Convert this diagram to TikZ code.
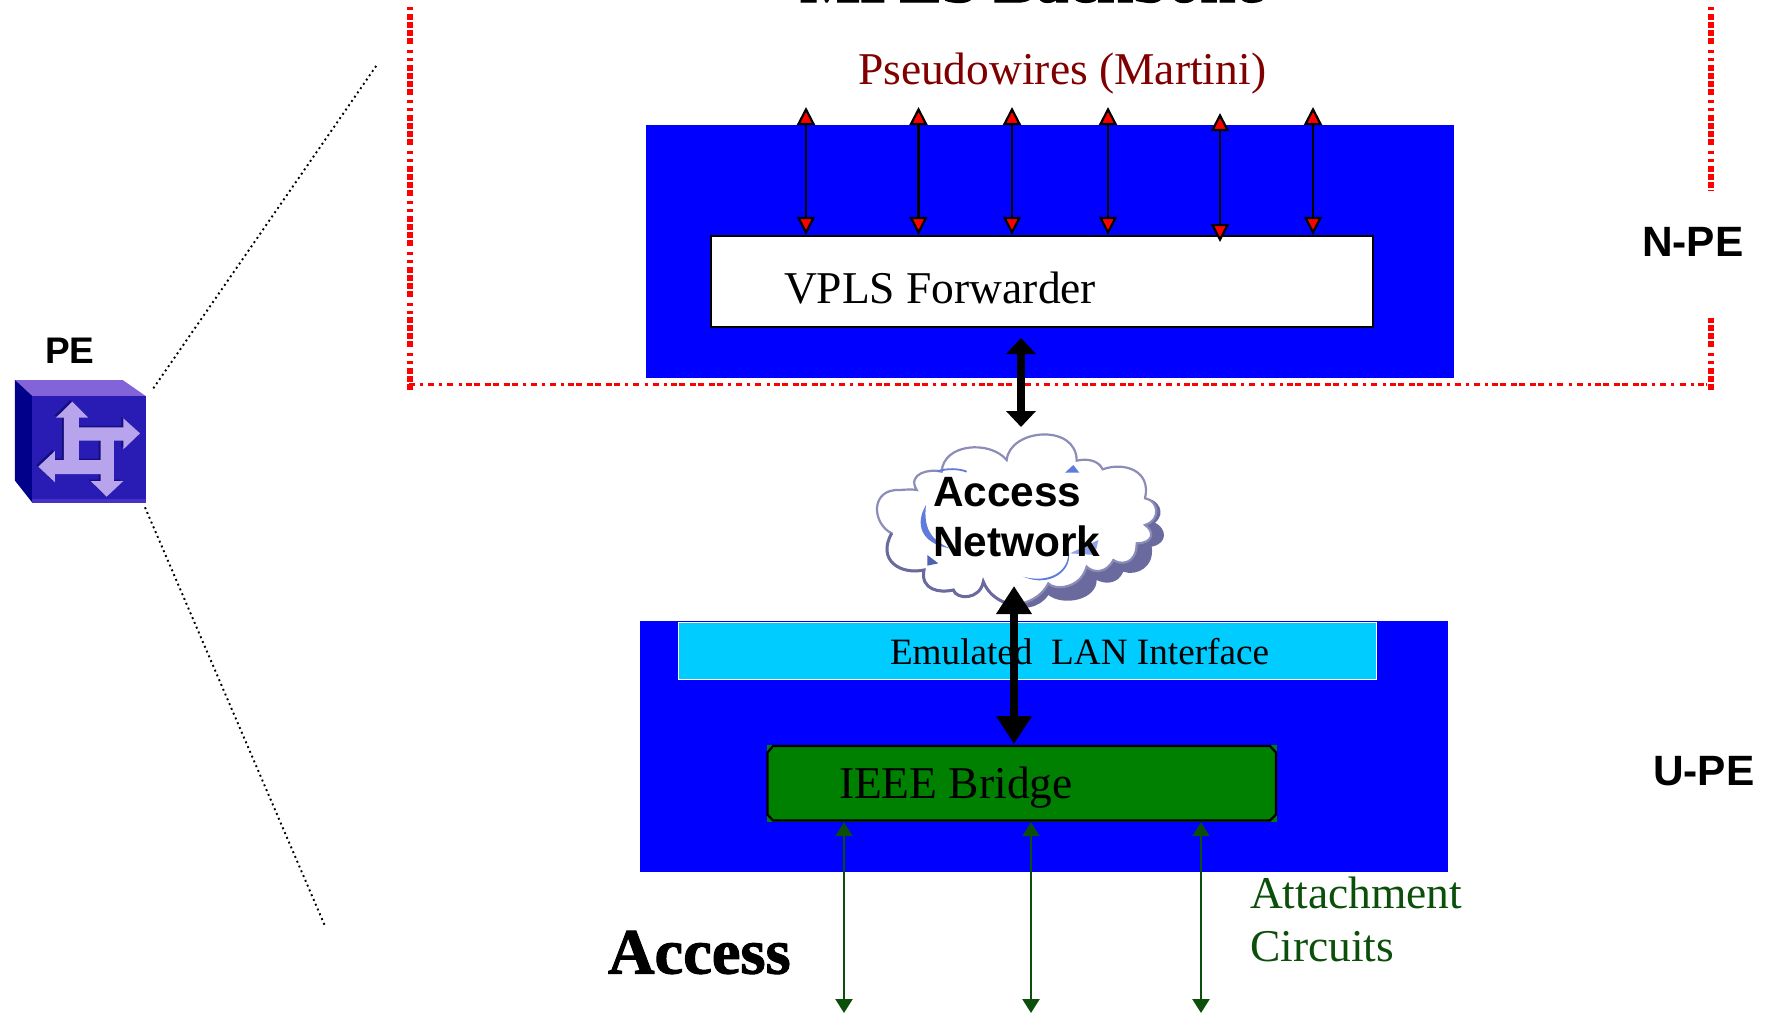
\documentclass[tikz,border=0pt]{standalone}
\usepackage{fontspec}
\setmainfont{Liberation Serif}
\newfontfamily\arialf{Liberation Sans}
\newfontfamily\heavyf{Liberation Serif}[UprightFont=* Bold,FakeBold=1.6]
\usetikzlibrary{arrows.meta}
\definecolor{panelblue}{HTML}{0000FF}
\definecolor{lancyan}{HTML}{00CCFF}
\definecolor{bridgegreen}{HTML}{008000}
\definecolor{acgreen}{HTML}{0B4F0B}
\definecolor{pwred}{HTML}{800000}
\definecolor{cloudshadow}{HTML}{6A6A9E}
\definecolor{cloudline}{HTML}{8C8CB8}
\definecolor{cloudblue}{HTML}{5F7CDC}
\definecolor{pctop}{RGB}{130,100,216}
\definecolor{pcleft}{RGB}{0,0,139}
\definecolor{pcfront}{RGB}{40,28,180}
\definecolor{pcedge}{RGB}{70,50,200}
\definecolor{pcshade}{RGB}{22,14,120}
\definecolor{pcglyph}{RGB}{184,164,236}
\newcommand{\fsz}[1]{\fontsize{#1}{#1}\selectfont}
\tikzset{
  panel/.style={fill=panelblue,draw=none,inner sep=0pt,outer sep=0pt},
  lbl/.style={inner sep=0pt,outer sep=0pt,anchor=base west},
  serifsm/.style={lbl,font=\fsz{37.2}},
  serifmd/.style={lbl,font=\fsz{45.5}},
  serifbig/.style={lbl,font=\heavyf\fsz{64}},
  sanslbl/.style={lbl,font=\arialf\fsz{42.4}\bfseries},
  pwarrow/.style={line width=2.6pt,draw=black,
    {Triangle[length=18pt,width=18pt,fill=red,line width=2.2pt]}-{Triangle[length=18pt,width=18pt,fill=red,line width=2.2pt]}},
  acarrow/.style={line width=2.4pt,draw=acgreen,
    {Triangle[length=14pt,width=17pt]}-{Triangle[length=14pt,width=17pt]}},
  fatup/.style={line width=7.5pt,draw=black,
    {Triangle[length=16pt,width=29pt]}-{Triangle[length=16pt,width=29pt]}},
  fatlow/.style={line width=8pt,draw=black,
    {Triangle[length=28pt,width=34pt]}-{Triangle[length=28pt,width=34pt]}},
  reddash/.style={draw=red,line width=6pt,dash pattern=on 3pt off 5pt on 3pt off 3.83pt on 6pt off 2pt on 6pt off 2pt on 6pt off 2pt on 6pt off 5.72pt},
  redhoriz/.style={draw=red,line width=3pt,dash pattern=on 6pt off 4.83pt on 3pt off 5.17pt on 6pt off 5.17pt on 3pt off 5.17pt on 6pt off 5.17pt on 3pt off 4.17pt on 6pt off 2pt on 6pt off 5pt on 6pt off 2pt on 6pt off 5pt on 6pt off 2pt},
  zoomline/.style={draw=black,line width=1.9pt,dash pattern=on 1.9pt off 3.3pt},
}
\begin{document}
\begin{tikzpicture}[x=1pt,y=-1pt]
\useasboundingbox (0,0) rectangle (1767,1013);
\fill[white] (0,0) rectangle (1767,1013);

% N-PE block
\node[panel,minimum width=808pt,minimum height=253pt] (npe) at (1050,251.5) {};
\node[fill=white,draw=black,line width=2.4pt,inner sep=0pt,minimum width=662pt,minimum height=91pt] (fwd) at (1042,281.5) {};
\node[serifmd] (fwdtext) at (784,303) {VPLS Forwarder};

% dashed red MPLS boundary
\coordinate (bl) at (410,7.2);
\coordinate (blb) at (410,391);
\coordinate (hl) at (409,384.5);
\coordinate (hr) at (1707,384.5);
\coordinate (brt) at (1711,7.2);
\coordinate (brm) at (1711,190.6);
\coordinate (brm2) at (1711,318);
\coordinate (brb) at (1711,391);
\draw[reddash,dash phase=8pt] (bl) -- (blb);
\draw[reddash,dash phase=8pt] (brt) -- (brm);
\draw[reddash,dash phase=15.75pt] (brm2) -- (brb);
\draw[redhoriz] (hl) -- (hr);

% U-PE block
\node[panel,minimum width=808pt,minimum height=251pt] (upe) at (1044,746.5) {};
\node[fill=lancyan,draw=white,line width=1pt,inner sep=0pt,minimum width=698pt,minimum height=57pt] (lan) at (1027,650.5) {};
\node[serifsm] (lantext) at (890,664.5) {Emulated\ \ LAN Interface};
\fill[bridgegreen] (766.5,745) rectangle (1277,822);
\node[fill=none,inner sep=0pt,minimum width=510pt,minimum height=77pt] (bridge) at (1021.75,783.5) {};
\draw[fill=bridgegreen,draw=black,line width=2.2pt]
  (773,746) -- (1270,746) -- (1276,752.5) -- (1276,814.5) -- (1270,820.5) -- (773,820.5) -- (767.5,814.5) -- (767.5,752.5) -- cycle;
\node[serifmd] (bridgetext) at (839,798) {IEEE Bridge};

% cloud
\begin{scope}[shift={(850,400)},x=0.33333pt,y=-0.33333pt]
\fill[cloudshadow] (885,295) .. controls (925,295) and (950,340) .. (915,368)
  .. controls (950,385) and (955,430) .. (905,440)
  .. controls (915,500) and (860,530) .. (820,515)
  .. controls (805,550) and (770,555) .. (740,540)
  .. controls (740,600) and (640,620) .. (595,585)
  .. controls (570,625) and (510,635) .. (470,610) -- (600,400) -- cycle;
\draw[fill=white,draw=cloudline,line width=2.2pt]
  (470,180) .. controls (480,85) and (680,70) .. (680,182)
  .. controls (710,175) and (745,180) .. (758,208)
  .. controls (820,185) and (905,210) .. (885,295)
  .. controls (925,300) and (935,360) .. (885,375)
  .. controls (915,395) and (910,430) .. (860,430)
  .. controls (860,495) and (810,495) .. (790,480)
  .. controls (770,520) and (730,520) .. (710,500)
  .. controls (690,570) and (610,570) .. (595,550)
  .. controls (570,600) and (510,620) .. (470,610)
  .. controls (430,595) and (410,570) .. (400,545)
  .. controls (390,600) and (320,600) .. (310,570)
  .. controls (270,580) and (210,570) .. (222,510)
  .. controls (150,525) and (80,480) .. (125,400)
  .. controls (65,370) and (60,265) .. (150,270)
  .. controls (175,268) and (190,268) .. (200,270)
  .. controls (170,220) and (240,205) .. (275,215)
  .. controls (280,130) and (420,120) .. (470,180) -- cycle;
\draw[cloudshadow,line width=3pt] (125,400) .. controls (80,480) and (150,525) .. (222,510) .. controls (210,570) and (270,580) .. (310,570)
  .. controls (320,600) and (390,600) .. (400,545) .. controls (410,570) and (430,595) .. (470,610);
\draw[cloudblue,line width=1.8pt] (262,214) .. controls (290,205) and (325,205) .. (350,215);
\fill[cloudblue] (228,315) .. controls (195,370) and (210,430) .. (300,445)
  .. controls (240,420) and (220,380) .. (228,315) -- cycle;
\fill[cloudblue!80!black] (232,465) -- (265,490) -- (232,497) -- cycle;
\fill[cloudblue] (520,530) .. controls (590,550) and (660,520) .. (655,450)
  .. controls (672,510) and (600,565) .. (520,530) -- cycle;
\fill[cloudblue!70!white] (660,460) -- (745,420) -- (735,465) -- cycle;
\fill[cloudblue] (645,218) -- (670,195) -- (688,218) -- cycle;
\end{scope}
\node[lbl,align=left,anchor=north west,font=\arialf\fontsize{42.4}{50.7}\selectfont\bfseries] (accnet) at (933,477) {Access\\Network};

% pseudowires
\coordinate (pw1) at (806,107);
\coordinate (pw2) at (918.5,107);
\coordinate (pw3) at (1012,107);
\coordinate (pw4) at (1108,107);
\coordinate (pw5) at (1220,113);
\coordinate (pw5b) at (1220,242);
\coordinate (pw6) at (1313,107);
\draw[pwarrow] (pw1) -- (pw1 |- fwd.north);
\draw[pwarrow] (pw2) -- (pw2 |- fwd.north);
\draw[pwarrow] (pw3) -- (pw3 |- fwd.north);
\draw[pwarrow] (pw4) -- (pw4 |- fwd.north);
\draw[pwarrow] (pw5) -- (pw5b);
\draw[pwarrow] (pw6) -- (pw6 |- fwd.north);
\node[lbl,font=\fsz{45.5},text=pwred] (pwtext) at (858,84) {Pseudowires (Martini)};
\node[serifbig] (mpls) at (800,2) {MPLS Backbone};

% thick arrows
\coordinate (ftop) at (1021,338);
\coordinate (fbot) at (1021,427);
\coordinate (gtop) at (1014,586);
\coordinate (gbot) at (1014,744);
\draw[fatup] (ftop) -- (fbot);
\draw[fatlow] (gtop) -- (gbot);

% attachment circuits
\coordinate (ac1) at (844,1013);
\coordinate (ac2) at (1031,1013);
\coordinate (ac3) at (1201,1013);
\draw[acarrow] (ac1 |- bridge.south) -- (ac1);
\draw[acarrow] (ac2 |- bridge.south) -- (ac2);
\draw[acarrow] (ac3 |- bridge.south) -- (ac3);
\node[lbl,align=left,anchor=north west,font=\fontsize{45.5}{53}\selectfont,text=acgreen] (actext) at (1250,877) {Attachment\\Circuits};
\node[lbl,font=\heavyf\fsz{64.5}] (access) at (608,973.5) {Access};

% side labels
\node[sanslbl] (npelbl) at (1642,256.5) {N-PE};
\node[sanslbl] (upelbl) at (1653,785) {U-PE};
\node[lbl,font=\arialf\fsz{37}\bfseries] (pelbl) at (45,363.5) {PE};

% PE icon
\begin{scope}[shift={(0,320)},x=0.33333pt,y=-0.33333pt]
\def\peglyph{(217,245) -- (265,293) -- (237,293) -- (237,322) -- (370,322) -- (370,295) -- (420,340) -- (370,388) -- (370,362) -- (342,362) -- (342,483) -- (370,483) -- (320,530) -- (272,483) -- (302,483) -- (302,462) -- (165,462) -- (165,487) -- (115,440) -- (165,393) -- (165,420) -- (192,420) -- (192,293) -- (168,293) -- cycle (237,362) -- (302,362) -- (302,420) -- (237,420) -- cycle}
\fill[pctop] (45,180) -- (368,180) -- (437,228) -- (97,228) -- cycle;
\fill[pcleft] (45,180) -- (97,228) -- (97,548) -- (45,482) -- cycle;
\fill[pcfront] (97,228) rectangle (437,548);
\fill[pcedge] (97,538) rectangle (437,548);
\begin{scope}[shift={(-2pt,1.5pt)}]
\fill[pcshade,even odd rule] \peglyph;
\end{scope}
\fill[pcglyph,even odd rule] \peglyph;
\coordinate (icontop) at (460,205);
\coordinate (iconbot) at (435,562);
\end{scope}

% zoom lines
\coordinate (zt) at (377.5,64);
\coordinate (zb) at (325,926);
\draw[zoomline] (icontop) -- (zt);
\draw[zoomline] (iconbot) -- (zb);
\end{tikzpicture}
\end{document}
